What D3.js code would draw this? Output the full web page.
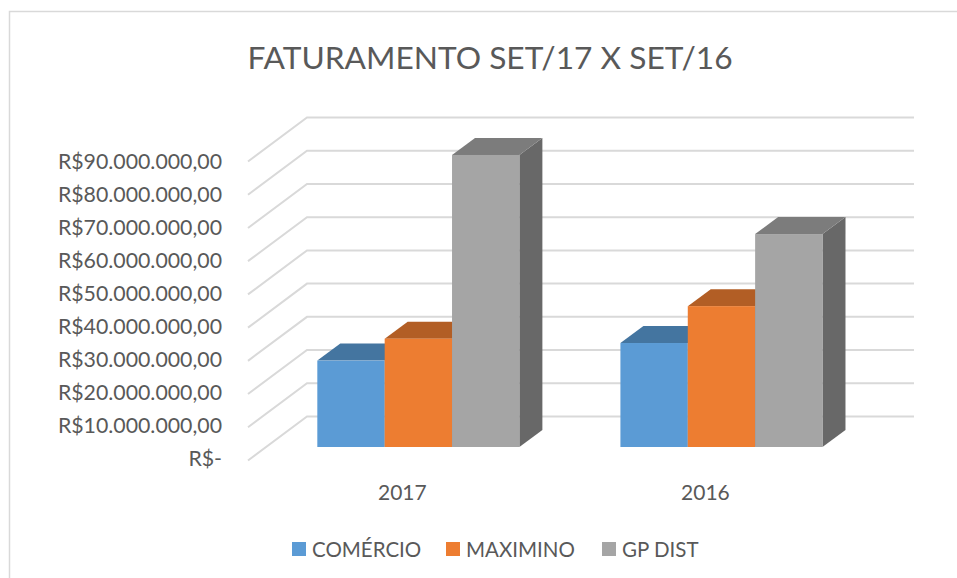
<!DOCTYPE html>
<html>
<head>
<meta charset="utf-8">
<script src="https://cdn.jsdelivr.net/npm/d3@7"></script>
<style>
  html, body { margin: 0; background: #fff; }
  text { font-family: Lato, "Open Sans", sans-serif; fill: #595959; }
</style>
</head>
<body>
<div id="root"></div>
<script>
// Data
const titleText = "FATURAMENTO SET/17 X SET/16";
const years = ["2017", "2016"];
const seriesNames = ["COMÉRCIO", "MAXIMINO", "GP DIST"];
const comercio = [26000000, 31300000];
const maximino = [32600000, 42400000];
const gpDist = [87900000, 64100000];
const yTicks = [0, 10000000, 20000000, 30000000, 40000000, 50000000, 60000000, 70000000, 80000000, 90000000];

const seriesValues = [comercio, maximino, gpDist];

// Constant. SVG Coordinate
const width = 957;
const height = 578;

// fake 3D: wall sits up-right of the floor front edge
const wallDx = 59, wallDy = -44;
const barDx = 23, barDy = -17;
const yFrontBottom = 460.5; // floor front edge
const yBarBottom = 447;     // bar front face bottom
const unitPx = 299 / 90000000;

const colors = d3.scaleOrdinal().domain(seriesNames).range(["#5b9bd5", "#ed7d31", "#a5a5a5"]);
const topColors = d3.scaleOrdinal().domain(seriesNames).range(["#4475a0", "#b25e25", "#7c7c7c"]);
const sideColor = "#686868";

const svg = d3.select("#root")
  .append("svg")
  .attr("width", width)
  .attr("height", height)
  .attr("viewBox", `0 0 ${width} ${height}`)
  .style("display", "block");

// chart frame, only top and left edges show, cropped by the picture
svg.append("path")
  .attr("d", d3.line()([[9.5, height], [9.5, 11.5], [width, 11.5]]))
  .attr("fill", "none")
  .attr("stroke", "#d9d9d9")
  .attr("stroke-width", 1.5);

svg.append("text")
  .attr("x", 490)
  .attr("y", 69)
  .attr("text-anchor", "middle")
  .style("font-size", "31.7px")
  .text(titleText);

const yFront = d3.scaleLinear().domain([0, 90000000]).range([yFrontBottom, yFrontBottom - 90000000 * unitPx]);
const yBar = d3.scaleLinear().domain([0, 90000000]).range([yBarBottom, yBarBottom - 90000000 * unitPx]);
// labels are spaced a little tighter than the gridlines
const yLabel = d3.scaleLinear().domain([0, 90000000]).range([458, 161]);

const xYear = d3.scaleBand().domain(years).range([266.8, 873]).paddingInner(1 / 3).paddingOuter(1 / 6);
const xSeries = d3.scaleBand().domain(seriesNames).range([0, xYear.bandwidth()]);

// gridlines: slanted piece on the side wall, then flat along the back wall
const gridLine = d3.line();
svg.append("g")
  .selectAll("path")
  .data(yTicks)
  .enter().append("path")
    .attr("d", d => gridLine([
      [248, yFront(d)],
      [248 + wallDx, yFront(d) + wallDy],
      [914, yFront(d) + wallDy]
    ]))
    .attr("fill", "none")
    .attr("stroke", "#d9d9d9")
    .attr("stroke-width", 2);

// y axis labels
const axisGroup = svg.append("g")
  .attr("transform", "translate(222,0)")
  .call(d3.axisLeft(yLabel)
    .tickValues(yTicks)
    .tickSize(0)
    .tickPadding(0)
    .tickFormat(d => d === 0 ? "R$-" : "R$" + (d / 1000000) + ".000.000,00"));
axisGroup.select(".domain").remove();
axisGroup.selectAll("text")
  .attr("dy", "0.34em")
  .style("font-size", "21.3px")
  .style("font-family", "Lato, 'Open Sans', sans-serif");

// bars, drawn group by group left to right so later bars cover the earlier sides
const barData = [];
years.forEach((y, i) => {
  seriesNames.forEach((s, j) => {
    barData.push({ year: y, name: s, value: seriesValues[j][i] });
  });
});

const bars = svg.append("g")
  .selectAll("g")
  .data(barData)
  .enter().append("g");

const barX = d => xYear(d.year) + xSeries(d.name);
const poly = pts => d3.line()(pts) + "Z";

bars.append("path") // right side
  .attr("d", d => {
    const x1 = barX(d) + xSeries.bandwidth();
    return poly([
      [x1, yBar(d.value)],
      [x1 + barDx, yBar(d.value) + barDy],
      [x1 + barDx, yBar(0) + barDy],
      [x1, yBar(0)]
    ]);
  })
  .attr("fill", sideColor);

bars.append("path") // top
  .attr("d", d => {
    const x0 = barX(d), x1 = x0 + xSeries.bandwidth();
    return poly([
      [x0, yBar(d.value)],
      [x0 + barDx, yBar(d.value) + barDy],
      [x1 + barDx, yBar(d.value) + barDy],
      [x1, yBar(d.value)]
    ]);
  })
  .attr("fill", d => topColors(d.name));

bars.append("rect") // front
  .attr("x", barX)
  .attr("y", d => yBar(d.value))
  .attr("width", xSeries.bandwidth())
  .attr("height", d => yBar(0) - yBar(d.value))
  .attr("fill", d => colors(d.name));

// category labels
svg.append("g")
  .selectAll("text")
  .data(years)
  .enter().append("text")
    .attr("x", d => xYear(d) + xYear.bandwidth() / 2 - 16)
    .attr("y", 499.5)
    .attr("text-anchor", "middle")
    .style("font-size", "21px")
    .text(d => d);

// Legend
const legendX = [292, 446, 602];
const legend = svg.append("g")
  .selectAll("g")
  .data(seriesNames)
  .enter().append("g")
    .attr("transform", (d, i) => `translate(${legendX[i]},542)`);

legend.append("rect")
  .attr("width", 14)
  .attr("height", 14)
  .attr("fill", d => colors(d));

legend.append("text")
  .attr("x", 20)
  .attr("y", 14.5)
  .style("font-size", "20.5px")
  .text(d => d);
</script>
</body>
</html>
